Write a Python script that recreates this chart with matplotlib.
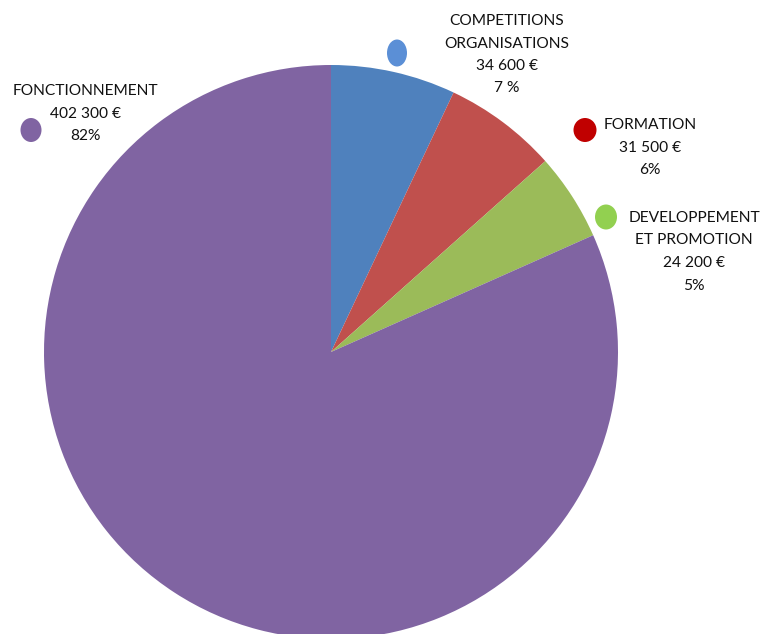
import matplotlib.pyplot as plt
from matplotlib.patches import Ellipse

names = [['COMPETITIONS', 'ORGANISATIONS'], ['FORMATION'],
         ['DEVELOPPEMENT', 'ET PROMOTION'], ['FONCTIONNEMENT']]
amounts = ['34 600 €', '31 500 €', '24 200 €', '402 300 €']
values = [34600, 31500, 24200, 402300]
pcts = ['7 %', '6%', '5%', '82%']
colors = ['#4F81BD', '#C0504D', '#9BBB59', '#8064A2']
dot_colors = ['#5B8FD6', '#C00000', '#92D050', '#8064A2']

W, H = 764, 634
fig = plt.figure(figsize=(W / 100, H / 100), dpi=100)
ax = fig.add_axes([0, 0, 1, 1])

ax.pie(values, colors=colors, startangle=90, counterclock=False,
       center=(331, H - 352), radius=287, frame=True,
       wedgeprops=dict(linewidth=0))
ax.set_xlim(0, W)
ax.set_ylim(0, H)
ax.axis('off')

# label blocks: centre x, first line y (pixels from top), dot position and size
label_pos = [(507, 21), (650, 125), (694, 218), (85, 91)]
dot_pos = [(397, 53, 20, 27), (585, 130, 23, 24), (606, 217, 22, 25), (31, 130, 21, 24)]
step = 22.5

for i in range(4):
    lines = names[i] + [amounts[i], pcts[i]]
    x, y0 = label_pos[i]
    for k, s in enumerate(lines):
        ax.text(x, H - (y0 + k * step), s, ha='center', va='center',
                fontsize=11.2, family='Lato', color='#111111')
    dx, dy, w, h = dot_pos[i]
    ax.add_patch(Ellipse((dx, H - dy), w, h, color=dot_colors[i], lw=0))

fig.savefig('out.png', dpi=100)
